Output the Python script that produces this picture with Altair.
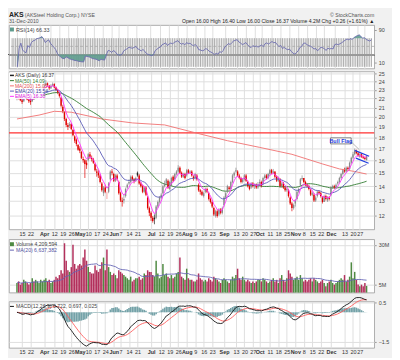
import json
import altair as alt
import numpy as np
import pandas as pd

# ---------------- data (trading days 10-Mar-2010 .. 31-Dec-2010) ----------------
close = [
    22.3, 22.0, 21.8, 21.6, 22.1, 22.4, 21.9, 21.7, 21.6, 22.2, 22.0, 22.6, 22.9, 23.0, 23.3, 23.4,
    23.5, 23.8, 23.6, 23.2, 23.5, 23.7, 23.3, 23.0, 22.7, 22.3, 21.2, 20.6, 19.8, 19.2, 19.0, 19.3, 18.8, 18.2, 17.7, 17.4, 16.9,
    16.8, 16.2, 16.0, 15.7, 15.6, 16.5, 16.3, 16.1, 15.8, 15.2, 15.0, 14.8, 14.3, 13.7, 13.9, 13.6, 13.4, 14.2, 15.1, 15.0,
    14.4, 14.8, 14.5, 13.5, 13.0, 12.9, 13.1, 13.8, 14.1, 14.3, 14.7, 14.5, 14.4, 14.6, 14.8, 14.2, 14.0, 13.6, 13.9, 13.4, 12.5, 12.2,
    11.9, 11.7, 11.8, 12.6, 12.9, 13.2, 13.4, 14.0, 14.2, 14.5, 13.9, 14.3, 14.6, 14.4, 14.9, 15.1, 15.4, 15.0, 14.7, 14.9, 14.6,
    15.2, 15.0, 15.1, 14.8, 14.6, 14.9, 14.5, 13.7, 13.6, 13.4, 13.5, 13.8, 13.6, 13.1, 12.9, 12.6, 12.1, 12.3, 12.0, 12.4, 12.2, 12.5,
    13.2, 13.5, 14.0, 13.8, 14.3, 14.8, 15.0, 15.2, 14.8, 14.6, 14.3, 14.5, 14.8, 14.4, 14.0, 13.8, 14.2, 14.0, 14.1, 13.9, 14.1,
    14.3, 14.0, 14.6, 14.8, 14.6, 14.9, 15.2, 15.0, 15.1, 14.7, 14.4, 14.6, 14.0, 14.2, 13.9, 13.7, 13.8, 13.3, 12.8, 12.5, 12.7,
    13.0, 13.6, 13.8, 14.5, 14.6, 14.3, 14.1, 14.0, 13.8, 13.4, 13.5, 13.0, 13.2, 13.6, 13.5, 13.3, 12.9, 13.3, 13.1, 13.2, 13.1,
    13.9, 14.0, 13.9, 14.1, 14.3, 14.6, 14.9, 15.2, 15.1, 15.4, 15.3, 15.8, 16.2, 16.5, 16.8, 16.6, 16.4, 16.5, 16.3, 16.2, 16.11, 16.37,
]
open_ = [
    22.0, 22.3, 22.1, 21.8, 21.7, 22.1, 22.3, 21.9, 21.8, 21.7, 22.2, 22.1, 22.6, 22.9, 23.0, 23.3,
    23.4, 23.6, 23.8, 23.5, 23.2, 23.5, 23.7, 23.3, 23.0, 22.6, 22.1, 21.1, 20.5, 19.8, 19.2, 19.1, 19.3, 18.7, 18.1, 17.8, 17.3,
    17.0, 16.7, 16.1, 16.0, 15.8, 16.0, 16.5, 16.2, 16.1, 15.7, 15.1, 15.0, 14.8, 14.2, 13.5, 13.9, 13.4, 13.6, 14.5, 15.1,
    14.9, 14.4, 14.8, 14.3, 13.5, 13.0, 13.0, 13.3, 13.9, 14.2, 14.3, 14.7, 14.5, 14.4, 15.0, 14.8, 14.2, 14.0, 13.6, 13.9, 13.2, 12.5,
    12.2, 11.9, 11.9, 11.9, 12.6, 12.9, 13.2, 13.5, 14.0, 14.2, 14.4, 13.8, 14.1, 14.7, 14.5, 14.9, 15.1, 15.4, 15.0, 14.7, 14.9,
    14.8, 15.2, 15.0, 15.1, 14.7, 14.6, 14.8, 14.1, 13.7, 13.6, 13.3, 13.6, 13.8, 13.5, 13.1, 12.9, 12.5, 12.0, 12.3, 12.1, 12.4, 12.2,
    12.7, 13.2, 13.6, 13.9, 13.8, 14.3, 14.8, 15.1, 15.1, 14.8, 14.6, 14.3, 14.5, 14.8, 14.3, 14.0, 13.9, 14.2, 14.0, 14.1, 13.9,
    14.2, 14.3, 14.2, 14.6, 14.8, 14.6, 14.9, 15.2, 15.0, 15.1, 14.7, 14.4, 14.5, 14.0, 14.2, 13.9, 13.7, 13.7, 13.2, 12.8, 12.5,
    12.8, 13.1, 13.6, 14.1, 14.5, 14.6, 14.3, 14.1, 14.0, 13.7, 13.4, 13.4, 13.0, 13.3, 13.6, 13.5, 13.2, 12.9, 13.3, 13.0, 13.2,
    13.4, 13.9, 14.0, 13.9, 14.2, 14.3, 14.6, 14.9, 15.2, 15.1, 15.4, 15.3, 15.8, 16.2, 16.5, 16.8, 16.6, 16.3, 16.5, 16.3, 16.2, 16.00,
]
high = [
    22.5, 22.4, 22.2, 21.9, 22.3, 22.6, 22.4, 22.0, 21.9, 22.4, 22.3, 22.8, 23.1, 23.2, 23.5, 23.6,
    23.8, 24.2, 23.9, 23.6, 23.7, 23.9, 23.8, 23.4, 23.1, 22.7, 22.2, 21.3, 20.6, 19.9, 19.4, 19.5, 19.4, 18.8, 18.2, 17.9, 17.4,
    17.2, 16.8, 16.3, 16.1, 16.0, 16.6, 16.7, 16.4, 16.2, 15.8, 15.3, 15.2, 14.9, 14.3, 14.0, 14.1, 13.6, 14.3, 15.2, 15.3,
    15.0, 14.9, 14.9, 14.4, 13.6, 13.2, 13.4, 13.9, 14.2, 14.5, 14.8, 14.8, 14.6, 14.7, 15.1, 14.9, 14.3, 14.1, 14.0, 14.0, 13.3, 12.6,
    12.3, 12.0, 12.1, 12.7, 13.0, 13.3, 13.5, 14.1, 14.4, 14.6, 14.5, 14.4, 14.7, 14.8, 15.0, 15.2, 15.6, 15.5, 15.1, 15.0, 15.0,
    15.3, 15.3, 15.2, 15.2, 14.8, 15.0, 14.9, 14.2, 13.8, 13.7, 13.6, 13.9, 13.9, 13.6, 13.2, 13.0, 12.6, 12.4, 12.4, 12.5, 12.5, 12.6,
    13.3, 13.6, 14.1, 14.0, 14.4, 14.9, 15.1, 15.4, 15.2, 14.9, 14.7, 14.6, 14.9, 14.9, 14.4, 14.1, 14.3, 14.3, 14.2, 14.2, 14.3,
    14.5, 14.4, 14.7, 14.9, 14.9, 15.0, 15.3, 15.3, 15.3, 15.1, 14.8, 14.7, 14.6, 14.3, 14.3, 14.0, 13.9, 13.8, 13.3, 12.9, 12.8,
    13.1, 13.7, 13.9, 14.6, 14.8, 14.6, 14.4, 14.2, 14.1, 13.8, 13.6, 13.5, 13.3, 13.7, 13.7, 13.6, 13.3, 13.4, 13.4, 13.3, 13.3,
    14.0, 14.1, 14.1, 14.2, 14.4, 14.7, 15.0, 15.3, 15.4, 15.5, 15.5, 15.9, 16.3, 16.7, 17.0, 16.9, 16.7, 16.6, 16.6, 16.4, 16.3, 16.40,
]
low = [
    21.8, 21.9, 21.7, 21.4, 21.6, 22.0, 21.8, 21.5, 21.3, 21.6, 21.9, 22.0, 22.5, 22.7, 22.9, 23.1,
    23.2, 23.5, 23.4, 23.0, 23.1, 23.4, 23.2, 22.9, 22.5, 22.1, 21.0, 20.4, 19.6, 19.0, 18.7, 18.9, 18.7, 18.1, 17.5, 17.2, 16.8,
    16.6, 16.1, 15.8, 14.6, 15.3, 15.9, 16.1, 15.9, 15.7, 15.1, 14.7, 14.6, 14.2, 13.6, 13.3, 13.5, 13.1, 13.5, 14.4, 14.8,
    14.3, 14.3, 14.4, 13.4, 12.9, 12.6, 12.8, 13.2, 13.8, 14.1, 14.2, 14.4, 14.2, 14.3, 14.7, 14.1, 13.9, 13.5, 13.5, 13.3, 12.4, 12.0,
    11.7, 11.6, 11.5, 11.8, 12.5, 12.8, 13.1, 13.4, 13.9, 14.1, 13.8, 13.7, 14.0, 14.3, 14.4, 14.8, 15.0, 14.9, 14.6, 14.6, 14.5,
    14.7, 14.9, 14.9, 14.7, 14.4, 14.5, 14.4, 13.6, 13.4, 13.3, 13.2, 13.5, 13.5, 13.0, 12.8, 12.5, 12.0, 11.9, 11.9, 12.0, 12.1, 12.1,
    12.6, 13.1, 13.5, 13.7, 13.7, 14.2, 14.6, 15.0, 14.7, 14.5, 14.2, 14.2, 14.4, 14.3, 13.9, 13.7, 13.8, 13.9, 13.8, 13.8, 13.8,
    14.0, 13.9, 14.1, 14.5, 14.5, 14.5, 14.8, 14.9, 14.9, 14.6, 14.3, 14.3, 13.9, 13.9, 13.8, 13.6, 13.6, 13.2, 12.7, 12.3, 12.4,
    12.6, 13.0, 13.5, 14.0, 14.4, 14.2, 14.0, 13.9, 13.7, 13.3, 13.3, 12.9, 12.9, 13.2, 13.4, 13.2, 12.8, 12.9, 13.0, 12.9, 13.0,
    13.3, 13.8, 13.8, 13.8, 14.1, 14.2, 14.5, 14.8, 15.0, 15.0, 15.2, 15.2, 15.7, 16.1, 16.4, 16.5, 16.3, 16.2, 16.2, 16.1, 16.0, 16.00,
]
volume_m = [
    6, 7, 5, 6, 8, 7, 6, 5, 6, 9, 7, 8, 7, 6, 8, 7,
    8, 9, 7, 8, 6, 7, 8, 10, 9, 11, 14, 12, 31, 20, 14, 13, 16, 30, 18, 15, 17,
    18, 17, 22, 27, 20, 16, 13, 12, 12, 17, 14, 13, 15, 19, 22, 14, 27, 16, 13, 11,
    12, 11, 9, 14, 13, 12, 11, 10, 9, 8, 10, 7, 8, 9, 9, 10, 8, 9, 12, 11, 14, 13,
    13, 11, 10, 20, 12, 9, 10, 18, 11, 12, 10, 9, 11, 9, 10, 12, 13, 22, 10, 9, 8,
    15, 9, 8, 8, 7, 7, 8, 12, 9, 8, 7, 8, 7, 9, 8, 7, 10, 9, 8, 7, 6, 8,
    9, 8, 7, 6, 8, 10, 9, 11, 15, 9, 8, 10, 8, 7, 8, 7, 6, 7, 6, 7, 8,
    8, 7, 9, 8, 7, 6, 7, 8, 9, 7, 8, 6, 9, 11, 8, 7, 9, 14, 12, 10, 8,
    9, 10, 8, 11, 9, 7, 8, 7, 8, 9, 7, 9, 8, 7, 6, 7, 8, 6, 4, 6, 7,
    8, 6, 5, 6, 7, 8, 9, 8, 11, 7, 8, 10, 19, 9, 13, 8, 5, 4, 5, 4, 6, 4.2,
]
# 200-day MA (trading-day index, price)
sma200_idx = [0, 13, 22, 32, 50, 68, 87, 106, 124, 143, 162, 180, 190, 199, 206]
sma200_val = [19.8, 20.2, 20.6, 20.5, 19.8, 19.4, 19.2, 18.4, 17.7, 17.1, 16.5, 15.7, 15.3, 15.1, 14.9]
hline_price = [18.42]
# axis ticks
tick_idx = [3, 8, 16, 22, 27, 32, 37, 42, 47, 52, 57, 61, 66, 71, 79, 85, 90, 95, 100, 105, 110, 115,
            122, 129, 134, 139, 143, 149, 154, 159, 164, 169, 174, 179, 185, 193, 198, 202]
tick_lab = ["15", "22", "Apr", "12", "19", "26", "May", "10", "17", "24", "Jun", "7", "14", "21",
            "Jul", "12", "19", "26", "Aug", "9", "16", "23", "Sep", "13", "20", "27", "Oct", "11",
            "18", "25", "Nov", "8", "15", "22", "Dec", "13", "20", "27"]
month_idx = [16, 37, 57, 79, 100, 122, 143, 164, 185]
price_ticks = [12, 13, 14, 15, 16, 17, 18, 19, 20, 21, 22, 23, 24, 25]
vol_ticks = [5, 10, 15, 20, 25, 30]
macd_ticks = [0.5, 0.0, -0.5, -1.0, -1.5]
rsi_ticks = [10, 30, 50, 70, 90]
# bull flag annotation (index, price)
flag_i = [199.0, 207.5, 199.7, 207.2]
flag_p = [16.84, 16.34, 16.18, 15.75]
flag_g = ["u", "u", "l", "l"]

# ---------------- derived indicators ----------------
n = len(close)
df = pd.DataFrame({"i": np.arange(n), "o": open_, "h": high, "l": low, "c": close, "v": volume_m})
prev = df["c"].shift(1).fillna(df["o"])
up = df["c"] >= prev
hollow = df["c"] >= df["o"]
df["cc"] = np.where(up, np.where(hollow, "uh", "uf"), np.where(hollow, "dh", "df"))
df["vc"] = np.where(up, "up", "down")
cs = pd.Series(close)
df["ema5"] = cs.ewm(span=5, adjust=False).mean()
df["ema20"] = cs.ewm(span=20, adjust=False).mean()
df["sma50"] = cs.rolling(50, min_periods=1).mean()
d = cs.diff()
gain = d.clip(lower=0).ewm(alpha=1 / 14, adjust=True, min_periods=3).mean()
loss = (-d.clip(upper=0)).ewm(alpha=1 / 14, adjust=True, min_periods=3).mean()
df["rsi"] = 100 - 100 / (1 + gain / loss)
df["rhi"] = np.maximum(df["rsi"], 70)
df["rlo"] = np.minimum(df["rsi"], 30)
df["r70"] = 70.0
df["r30"] = 30.0
ema12 = cs.ewm(span=12, adjust=False).mean()
ema26 = cs.ewm(span=26, adjust=False).mean()
df["macd"] = ema12 - ema26
df["sig"] = df["macd"].ewm(span=9, adjust=False).mean()
df["hist"] = df["macd"] - df["sig"]
df["zero"] = 0.0
df["vma"] = df["v"].rolling(20, min_periods=1).mean()

sma200 = pd.DataFrame({"i": sma200_idx, "p": sma200_val})
flag = pd.DataFrame({"i": flag_i, "p": flag_p, "g": flag_g})
one = pd.DataFrame({"a": [0]})

# ---------------- layout / style ----------------
W = 370
FONT = "Liberation Sans"
GRID = "#dedede"
xscale = alt.Scale(domain=[-1.8, 207.6], nice=False, zero=False)
label_expr = f"{json.dumps(tick_lab)}[indexof({json.dumps(tick_idx)}, datum.value)]"
bold_cond = {"condition": {"test": f"indexof({json.dumps(month_idx)}, datum.value) >= 0", "value": "bold"},
             "value": "normal"}


def x_enc(labels):
    if labels:
        ax = alt.Axis(values=tick_idx, labelExpr=label_expr, labelFontSize=5.5, labelColor="#333",
                      labelFontWeight=bold_cond, tickSize=0, domain=False, grid=True, gridColor=GRID,
                      labelPadding=2, title=None, labelFlush=False, labelOverlap=False)
    else:
        ax = alt.Axis(values=tick_idx, labels=False, tickSize=0, domain=False, grid=True,
                      gridColor=GRID, title=None)
    return alt.X("i:Q", scale=xscale, axis=ax)


def y_axis(values, fmt=None, expr=None, grid=True):
    kw = dict(values=values, orient="right", labelFontSize=5.5, labelColor="#444", tickSize=2,
              tickColor="#999", domain=False, grid=grid, gridColor=GRID, title=None, labelPadding=2,
              labelOverlap=False)
    if fmt:
        kw["format"] = fmt
    if expr:
        kw["labelExpr"] = expr
    return alt.Axis(**kw)


def txt(s, x, y, color="#333", size=5.5, weight="normal", align="left"):
    return alt.Chart(one).mark_text(text=s, align=align, baseline="middle", fontSize=size,
                                    fontWeight=weight, color=color, font=FONT).encode(
        x=alt.value(x), y=alt.value(y))


def seg(x1, x2, y, color, w=1.0):
    return alt.Chart(one).mark_rule(color=color, strokeWidth=w).encode(
        x=alt.value(x1), x2=alt.value(x2), y=alt.value(y))


def box(x1, x2, y1, y2, fill="white", stroke=None, op=1.0):
    kw = dict(fill=fill, opacity=op)
    if stroke:
        kw.update(stroke=stroke, strokeWidth=0.6)
    return alt.Chart(one).mark_rect(**kw).encode(
        x=alt.value(x1), x2=alt.value(x2), y=alt.value(y1), y2=alt.value(y2))


# ---------------- RSI panel ----------------
H_RSI = 44
rsi_y = alt.Scale(domain=[-4, 102], nice=False, zero=False)
rbase = alt.Chart(df)
rsi_panel = alt.layer(
    rbase.mark_rule(color="#999", strokeWidth=0.8).encode(x=x_enc(False), y=alt.Y("r70:Q", scale=rsi_y, axis=y_axis(rsi_ticks, grid=False))),
    rbase.mark_rule(color="#999", strokeWidth=0.8).encode(y=alt.Y("r30:Q", scale=rsi_y)),
    alt.Chart(one).mark_rule(color="#aaa", strokeWidth=0.8, strokeDash=[3, 2]).encode(y=alt.datum(50)),
    rbase.mark_area(color="#5f9c8e", opacity=0.9).encode(x=x_enc(False), y=alt.Y("rhi:Q", scale=rsi_y), y2="r70:Q"),
    rbase.mark_area(color="#5f9c8e", opacity=0.9).encode(x=x_enc(False), y=alt.Y("rlo:Q", scale=rsi_y), y2="r30:Q"),
    rbase.mark_line(color="#6b6bb0", strokeWidth=0.9).encode(x=x_enc(False), y=alt.Y("rsi:Q", scale=rsi_y)),
    box(1, 5, 2.5, 6.5, fill="#5f9c8e"),
    txt("RSI(14) 66.33", 7, 5, color="#444", size=5.5),
    # header
    txt("AKS", 0, -10.5, color="#222", size=7, weight="bold"),
    txt("(AKSteel Holding Corp.) NYSE", 16, -10.5, color="#555", size=5.2),
    txt("© StockCharts.com", W, -10.5, color="#555", size=5.2, align="right"),
    txt("31-Dec-2010", 0, -4, color="#555", size=5.2),
    txt("Open 16.00  High 16.40  Low 16.00  Close 16.37  Volume 4.2M  Chg +0.26 (+1.61%) ▲",
        W, -4, color="#222", size=5.2, align="right"),
).properties(width=W, height=H_RSI)

# ---------------- price panel ----------------
H_P = 160
py = alt.Scale(type="log", domain=[11.2, 25.3], nice=False, zero=False)
pbase = alt.Chart(df)
cc_scale = alt.Scale(domain=["uh", "uf", "dh", "df"], range=["#8a8a8a", "#222222", "#f07a7a", "#e00000"])
price_panel = alt.layer(
    pbase.mark_rule(strokeWidth=0.7).encode(
        x=x_enc(True), y=alt.Y("l:Q", scale=py, axis=y_axis(price_ticks)), y2="h:Q",
        color=alt.Color("cc:N", scale=cc_scale, legend=None)),
    alt.Chart(pd.DataFrame({"p": hline_price})).mark_rule(color="#ff3030", strokeWidth=1.2).encode(
        y=alt.Y("p:Q", scale=py)),
    alt.Chart(sma200).mark_line(color="#f07070", strokeWidth=0.9).encode(
        x=x_enc(True), y=alt.Y("p:Q", scale=py)),
    pbase.mark_line(color="#2e7a2e", strokeWidth=0.9).encode(x=x_enc(True), y=alt.Y("sma50:Q", scale=py)),
    pbase.mark_bar(size=1.4).encode(
        x=x_enc(True), y=alt.Y("o:Q", scale=py), y2="c:Q",
        color=alt.Color("cc:N", scale=cc_scale, legend=None)),
    pbase.mark_line(color="#5a5ab8", strokeWidth=0.9).encode(x=x_enc(True), y=alt.Y("ema20:Q", scale=py)),
    pbase.mark_line(color="#ff30ff", strokeWidth=0.9).encode(x=x_enc(True), y=alt.Y("ema5:Q", scale=py)),
    alt.Chart(flag).mark_line(color="#1f3de0", strokeWidth=1.2).encode(
        x=x_enc(True), y=alt.Y("p:Q", scale=py), detail="g:N"),
    alt.Chart(pd.DataFrame({"i": [196.9, 201.7], "p": [17.6, 16.9]})).mark_line(color="#888", strokeWidth=0.6).encode(
        x=x_enc(True), y=alt.Y("p:Q", scale=py)),
    alt.Chart(pd.DataFrame({"i": [184.8], "i2": [196.9], "p": [17.41], "p2": [17.96]})).mark_rect(
        fill="white", stroke="#333", strokeWidth=0.6).encode(
        x=x_enc(True), x2="i2:Q", y=alt.Y("p:Q", scale=py), y2="p2:Q"),
    alt.Chart(pd.DataFrame({"i": [190.85], "p": [17.68], "t": ["Bull Flag"]})).mark_text(
        color="#1f3de0", fontSize=5.5, font=FONT, fontWeight="bold").encode(
        x=x_enc(True), y=alt.Y("p:Q", scale=py), text="t:N"),
    # legend box
    box(0, 35, 1, 28, fill="white", op=0.92),
    txt("AKS (Daily) 16.37", 6, 4, color="#333", size=5),
    seg(1, 5, 4, "#222", 1.5),
    txt("MA(50) 14.09", 6, 9.3, color="#2e7a2e", size=5),
    seg(1, 5, 9.3, "#2e7a2e", 1),
    txt("MA(200) 15.05", 6, 14.6, color="#e05050", size=5),
    seg(1, 5, 14.6, "#f07070", 1),
    txt("EMA(20) 15.54", 6, 19.9, color="#3a3aa0", size=5),
    seg(1, 5, 19.9, "#5a5ab8", 1),
    txt("EMA(5) 16.30", 6, 25.2, color="#e020e0", size=5),
    seg(1, 5, 25.2, "#ff30ff", 1),
).properties(width=W, height=H_P)

# ---------------- volume panel ----------------
H_V = 54
vy = alt.Scale(domain=[0, 33.5], nice=False, zero=True)
vbase = alt.Chart(df)
vol_panel = alt.layer(
    vbase.mark_bar(size=1.5).encode(
        x=x_enc(False), y=alt.Y("v:Q", scale=vy, axis=y_axis(vol_ticks, expr="datum.value + 'M'")),
        color=alt.Color("vc:N", scale=alt.Scale(domain=["up", "down"], range=["#4f8a42", "#b3305c"]), legend=None)),
    vbase.mark_line(color="#6464b4", strokeWidth=0.9).encode(x=x_enc(False), y=alt.Y("vma:Q", scale=vy)),
    box(1, 5, 3, 7, fill="#4f8a42"),
    txt("Volume 4,209,594", 7, 5, color="#444", size=5.2),
    seg(1, 5, 11, "#6464b4", 1),
    txt("MA(20) 6,637,382", 7, 11, color="#5050a0", size=5.2),
).properties(width=W, height=H_V)

# ---------------- MACD panel ----------------
H_M = 47
my = alt.Scale(domain=[-1.8, 0.55], nice=False, zero=False)
mbase = alt.Chart(df)
macd_panel = alt.layer(
    mbase.mark_bar(size=1.6, color="#74a2a8").encode(
        x=x_enc(True), y=alt.Y("hist:Q", scale=my, axis=y_axis(macd_ticks, fmt=".1f")), y2="zero:Q"),
    mbase.mark_line(color="#ff5a5a", strokeWidth=0.9).encode(x=x_enc(True), y=alt.Y("sig:Q", scale=my)),
    mbase.mark_line(color="#111", strokeWidth=0.9).encode(x=x_enc(True), y=alt.Y("macd:Q", scale=my)),
    seg(1, 5, 5, "#111", 1),
    txt("MACD(12,26,9) 0.722, 0.697, 0.025", 7, 5, color="#444", size=5.2),
).properties(width=W, height=H_M)

chart = alt.vconcat(rsi_panel, price_panel, vol_panel, macd_panel, spacing=1).resolve_scale(
    color="independent"
).properties(
    padding={"left": 0, "top": 0, "right": 2, "bottom": 0}, background="#f1f1f1"
).configure_view(stroke="#9a9a9a", strokeWidth=0.8, fill="white").configure_axis(
    labelFont=FONT
)

chart.save("out.html", embed_options={"renderer": "svg", "actions": False})
